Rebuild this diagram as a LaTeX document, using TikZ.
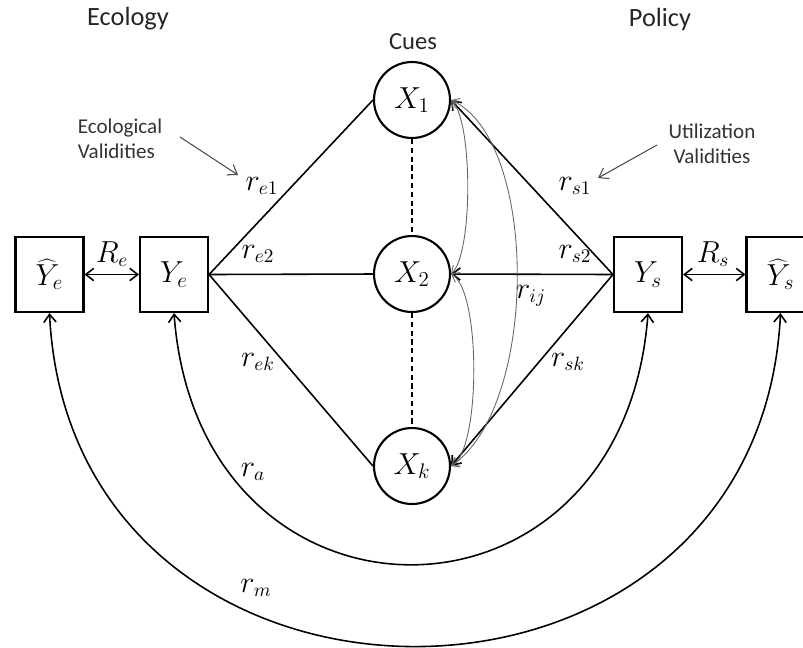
\documentclass[tikz,border=0pt]{standalone}
\usepackage[no-math]{fontspec}
\setmainfont{Carlito}
\usetikzlibrary{arrows.meta}
\begin{document}
\begin{tikzpicture}[x=0.02cm,y=-0.02cm,
  cue/.style={circle,draw,line width=1.2pt,minimum size=1.52cm,inner sep=0pt,font=\fontsize{17}{20}\selectfont},
  var/.style={rectangle,draw,line width=1.2pt,minimum width=1.36cm,minimum height=1.5cm,inner sep=0pt,font=\fontsize{17}{20}\selectfont},
  lbl/.style={inner sep=0pt,font=\fontsize{16}{18}\selectfont},
  head/.style={inner sep=0pt,font=\fontsize{15}{18}\selectfont,text=black!85},
  note/.style={inner sep=0pt,font=\fontsize{12}{14.5}\selectfont,text=black!80},
  link/.style={line width=0.9pt},
  corr/.style={line width=0.5pt,draw=black!60,{Straight Barb[length=4pt,width=6pt]}-{Straight Barb[length=4pt,width=6pt]}},
  pointer/.style={line width=0.6pt,draw=black!70,-{Straight Barb[length=5pt,width=7pt]}},
  >={Straight Barb[length=4.5pt,width=7pt]}
]
\useasboundingbox (0,0) rectangle (803,647);

% headings
\node[head] (ecol) at (128,19) {Ecology};
\node[head] (pol) at (660,19) {Policy};
\node[head,font=\fontsize{14}{17}\selectfont] (cues) at (413,42) {Cues};

% notes
\node[note,align=left] (ev) at (120,139) {Ecological\\Validities};
\node[note,align=center] (uv) at (712,144) {Utilization\\Validities};
\coordinate (evs) at (180,137);
\coordinate (evt) at (238,175);
\coordinate (uvs) at (657,145);
\coordinate (uvt) at (598,178);
\draw[pointer] (evs) -- (evt);
\draw[pointer] (uvs) -- (uvt);

% cues
\node[cue] (X1) at (412,100) {$X_1$};
\node[cue] (X2) at (412,274) {$X_2$};
\node[cue] (Xk) at (412,466) {$X_k$};

% criterion / judgment boxes
\node[var] (hYe) at (49.5,274.5) {$\widehat{Y}_e$};
\node[var] (Ye) at (174,274.5) {$Y_e$};
\node[var] (Ys) at (648,274.5) {$Y_s$};
\node[var] (hYs) at (780.5,274.5) {$\widehat{Y}_s$};

% ecological side
\draw[link] (Ye.east) -- (X1.west);
\draw[link] (Ye.east) -- (X2.west);
\draw[link] (Ye.east) -- (Xk.west);
% policy side
\draw[link,->] (Ys.west) -- (X1.east);
\draw[link,->] (Ys.west) -- (X2.east);
\draw[link,->] (Ys.west) -- (Xk.east);
% dashed between cues
\draw[link,dashed,dash pattern=on 3pt off 2pt] (X1.south) -- (X2.north);
\draw[link,dashed,dash pattern=on 3pt off 2pt] (X2.south) -- (Xk.north);

% inter-cue correlations
\draw[corr] (X1.east) .. controls +(22,20) and +(22,-20) .. (X2.east);
\draw[corr] (X2.east) .. controls +(30,16) and +(30,-16) .. (Xk.east);
\draw[corr] (X1.east) .. controls +(88,40) and +(88,-60) .. (Xk.east);

% R arrows
\draw[link,<->] (hYe.east) -- (Ye.west);
\draw[link,<->] (Ys.east) -- (hYs.west);

% achievement arcs
\draw[link,<->] (Ye.south) .. controls +(25,335) and +(-25,335) .. (Ys.south);
\draw[link,<->] (hYe.south) .. controls +(22,444) and +(-22,444) .. (hYs.south);

% labels
\node[lbl] (lRe) at (112,254) {$R_e$};
\node[lbl] (lRs) at (713,254) {$R_s$};
\node[lbl] (le1) at (262,186) {$r_{e1}$};
\node[lbl] (le2) at (258,254) {$r_{e2}$};
\node[lbl] (lek) at (258,362) {$r_{ek}$};
\node[lbl] (ls1) at (575,186) {$r_{s1}$};
\node[lbl] (ls2) at (575,254) {$r_{s2}$};
\node[lbl] (lsk) at (568,362) {$r_{sk}$};
\node[lbl] (lij) at (531,296) {$r_{ij}$};
\node[lbl] (la) at (253,472) {$r_a$};
\node[lbl] (lm) at (256,588) {$r_m$};
\end{tikzpicture}
\end{document}
